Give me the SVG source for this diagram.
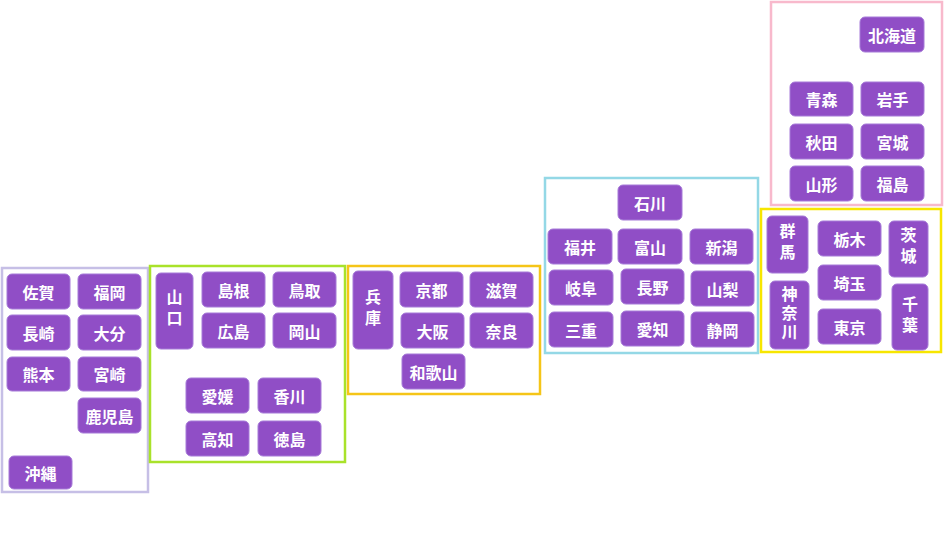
<svg xmlns="http://www.w3.org/2000/svg" width="945" height="537" viewBox="0 0 945 537">
<style>
.reg{fill:none;stroke-width:2.5}
.n rect{fill:#904ec6;stroke:#a67ad8;stroke-width:1}
.n text{fill:#fff;font-family:"Noto Sans CJK JP","Noto Sans CJK SC",sans-serif;font-weight:700;font-size:16px;text-anchor:middle;dominant-baseline:central}
.n text.v{writing-mode:vertical-rl;text-orientation:upright}
</style>
<rect width="945" height="537" fill="#fff"/>
<g id="regions">
<rect class="reg" x="2" y="268" width="146" height="224" stroke="#c6bfe6"/>
<rect class="reg" x="150" y="266" width="195" height="196" stroke="#a9e22a"/>
<rect class="reg" x="348" y="266" width="192" height="128" stroke="#f5c518"/>
<rect class="reg" x="545" y="178" width="213" height="175" stroke="#94d8e6"/>
<rect class="reg" x="761" y="209" width="180" height="143" stroke="#f7e600"/>
<rect class="reg" x="771" y="2" width="171" height="203" stroke="#f8b9cc"/>
</g>
<g id="connectors"/>
<!-- Kyushu -->
<g id="saga" class="n"><rect x="7" y="274" width="63" height="35" rx="5"/><text x="38.5" y="291.5">佐賀</text></g>
<g id="fukuoka" class="n"><rect x="78" y="274" width="63" height="35" rx="5"/><text x="109.5" y="291.5">福岡</text></g>
<g id="nagasaki" class="n"><rect x="7" y="315" width="63" height="35" rx="5"/><text x="38.5" y="332.5">長崎</text></g>
<g id="oita" class="n"><rect x="78" y="315" width="63" height="35" rx="5"/><text x="109.5" y="332.5">大分</text></g>
<g id="kumamoto" class="n"><rect x="7" y="357" width="63" height="34" rx="5"/><text x="38.5" y="374">熊本</text></g>
<g id="miyazaki" class="n"><rect x="78" y="357" width="63" height="34" rx="5"/><text x="109.5" y="374">宮崎</text></g>
<g id="kagoshima" class="n"><rect x="78" y="398" width="63" height="35" rx="5"/><text x="109.5" y="415.5">鹿児島</text></g>
<g id="okinawa" class="n"><rect x="9" y="456" width="63" height="33" rx="5"/><text x="40.5" y="472.5">沖縄</text></g>
<!-- Chugoku / Shikoku -->
<g id="yamaguchi" class="n"><rect x="156" y="273" width="37" height="76" rx="5"/><text class="v" x="174.5" y="310" letter-spacing="5">山口</text></g>
<g id="shimane" class="n"><rect x="202" y="272" width="63" height="35" rx="5"/><text x="233.5" y="289.5">島根</text></g>
<g id="tottori" class="n"><rect x="273" y="272" width="63" height="35" rx="5"/><text x="304.5" y="289.5">鳥取</text></g>
<g id="hiroshima" class="n"><rect x="202" y="313" width="63" height="35" rx="5"/><text x="233.5" y="330.5">広島</text></g>
<g id="okayama" class="n"><rect x="273" y="313" width="63" height="35" rx="5"/><text x="304.5" y="330.5">岡山</text></g>
<g id="ehime" class="n"><rect x="186" y="378" width="63" height="35" rx="5"/><text x="217.5" y="395.5">愛媛</text></g>
<g id="kagawa" class="n"><rect x="258" y="378" width="63" height="35" rx="5"/><text x="289.5" y="395.5">香川</text></g>
<g id="kochi" class="n"><rect x="186" y="421" width="63" height="35" rx="5"/><text x="217.5" y="438.5">高知</text></g>
<g id="tokushima" class="n"><rect x="258" y="421" width="63" height="35" rx="5"/><text x="289.5" y="438.5">徳島</text></g>
<!-- Kinki -->
<g id="hyogo" class="n"><rect x="353" y="271" width="40" height="78" rx="5"/><text class="v" x="373" y="310" letter-spacing="5">兵庫</text></g>
<g id="kyoto" class="n"><rect x="400" y="272" width="63" height="35" rx="5"/><text x="431.5" y="289.5">京都</text></g>
<g id="shiga" class="n"><rect x="470" y="272" width="63" height="35" rx="5"/><text x="501.5" y="289.5">滋賀</text></g>
<g id="osaka" class="n"><rect x="401" y="313" width="63" height="35" rx="5"/><text x="432.5" y="330.5">大阪</text></g>
<g id="nara" class="n"><rect x="470" y="313" width="63" height="35" rx="5"/><text x="501.5" y="330.5">奈良</text></g>
<g id="wakayama" class="n"><rect x="402" y="354" width="63" height="35" rx="5"/><text x="433.5" y="371.5">和歌山</text></g>
<!-- Chubu -->
<g id="ishikawa" class="n"><rect x="618" y="185" width="64" height="35" rx="5"/><text x="650" y="202.5">石川</text></g>
<g id="fukui" class="n"><rect x="548" y="229" width="64" height="35" rx="5"/><text x="580" y="246.5">福井</text></g>
<g id="toyama" class="n"><rect x="618" y="229" width="64" height="35" rx="5"/><text x="650" y="246.5">富山</text></g>
<g id="niigata" class="n"><rect x="690" y="229" width="63" height="35" rx="5"/><text x="721.5" y="246.5">新潟</text></g>
<g id="gifu" class="n"><rect x="549" y="270" width="64" height="35" rx="5"/><text x="581" y="287.5">岐阜</text></g>
<g id="nagano" class="n"><rect x="621" y="269" width="63" height="35" rx="5"/><text x="652.5" y="286.5">長野</text></g>
<g id="yamanashi" class="n"><rect x="691" y="271" width="63" height="35" rx="5"/><text x="722.5" y="288.5">山梨</text></g>
<g id="mie" class="n"><rect x="549" y="312" width="64" height="35" rx="5"/><text x="581" y="329.5">三重</text></g>
<g id="aichi" class="n"><rect x="621" y="311" width="63" height="35" rx="5"/><text x="652.5" y="328.5">愛知</text></g>
<g id="shizuoka" class="n"><rect x="691" y="312" width="63" height="35" rx="5"/><text x="722.5" y="329.5">静岡</text></g>
<!-- Kanto -->
<g id="gunma" class="n"><rect x="767" y="216" width="41" height="57" rx="5"/><text class="v" x="787.5" y="243.5" letter-spacing="5">群馬</text></g>
<g id="tochigi" class="n"><rect x="818" y="221" width="63" height="35" rx="5"/><text x="849.5" y="238.5">栃木</text></g>
<g id="ibaraki" class="n"><rect x="889" y="221" width="39" height="56" rx="5"/><text class="v" x="908.5" y="247.5" letter-spacing="5">茨城</text></g>
<g id="saitama" class="n"><rect x="818" y="265" width="63" height="35" rx="5"/><text x="849.5" y="282.5">埼玉</text></g>
<g id="kanagawa" class="n"><rect x="770" y="281" width="39" height="68" rx="5"/><text class="v" x="789.5" y="314" letter-spacing="3">神奈川</text></g>
<g id="tokyo" class="n"><rect x="818" y="309" width="63" height="35" rx="5"/><text x="849.5" y="326.5">東京</text></g>
<g id="chiba" class="n"><rect x="892" y="284" width="36" height="66" rx="5"/><text class="v" x="910" y="316.5" letter-spacing="5">千葉</text></g>
<!-- Hokkaido / Tohoku -->
<g id="hokkaido" class="n"><rect x="860" y="17" width="64" height="35" rx="5"/><text x="892" y="34.5">北海道</text></g>
<g id="aomori" class="n"><rect x="790" y="82" width="63" height="34" rx="5"/><text x="821.5" y="99">青森</text></g>
<g id="iwate" class="n"><rect x="861" y="82" width="63" height="34" rx="5"/><text x="892.5" y="99">岩手</text></g>
<g id="akita" class="n"><rect x="790" y="124" width="63" height="35" rx="5"/><text x="821.5" y="141.5">秋田</text></g>
<g id="miyagi" class="n"><rect x="861" y="124" width="63" height="35" rx="5"/><text x="892.5" y="141.5">宮城</text></g>
<g id="yamagata" class="n"><rect x="790" y="166" width="63" height="35" rx="5"/><text x="821.5" y="183.5">山形</text></g>
<g id="fukushima" class="n"><rect x="861" y="166" width="63" height="35" rx="5"/><text x="892.5" y="183.5">福島</text></g>
</svg>
